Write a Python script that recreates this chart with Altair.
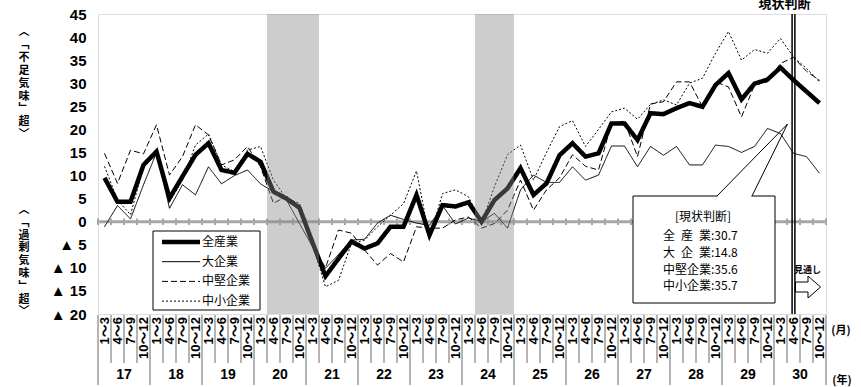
import altair as alt
import pandas as pd

# ---- data -------------------------------------------------------------
years = [str(y) for y in range(17, 31)]
months = ["1～3", "4～6", "7～9", "10～12"]
series_names = ["全産業", "大企業", "中堅企業", "中小企業"]
callout_names = ["全\u2002産\u2002業", "大\u2002企\u2002業", "中堅企業", "中小企業"]
caption_upper = ["︿", "﹁", "不", "足", "気", "味", "﹂", "超", "﹀"]
caption_lower = ["︿", "﹁", "過", "剰", "気", "味", "﹂", "超", "﹀"]

all_industries = [9.5, 4.3, 4.3, 12.3, 15.2, 5.1, 9.8, 14.5, 17.0, 11.2, 10.6, 14.7,
                  13.0, 6.5, 5.0, 3.0, -4.5, -11.8, -8.0, -4.3, -5.8, -4.7, -1.1, -1.1,
                  5.8, -2.9, 3.6, 3.3, 4.2, 0.0, 4.7, 7.2, 11.6, 5.8, 8.3, 14.4,
                  17.0, 14.1, 14.8, 21.3, 21.3, 17.7, 23.5, 23.3, 24.6, 25.7, 24.9, 29.6,
                  32.2, 26.5, 29.9, 30.8, 33.4, 30.7, 28.2, 25.7]
large = [-1.1, 3.5, 0.6, 8.0, 15.0, 2.9, 8.0, 5.8, 11.9, 8.2, 10.0, 11.2,
         8.2, 6.5, 4.7, -0.4, -5.4, -10.1, -7.1, -4.0, -3.8, -0.3, 1.4, 0.5,
         -0.3, -0.8, 3.5, -0.5, 0.8, 0.0, 1.8, -1.4, 6.9, 10.1, 8.5, 8.5,
         11.9, 9.0, 10.1, 16.4, 16.4, 11.9, 16.3, 14.4, 16.3, 12.3, 12.3, 16.6,
         16.3, 15.0, 16.3, 20.2, 19.1, 14.8, 14.1, 10.5]
mid = [14.8, 8.3, 15.5, 14.7, 21.0, 10.1, 14.1, 21.0, 18.8, 12.3, 13.4, 16.3,
       11.9, 4.0, 5.5, 3.5, -5.0, -10.0, -1.8, -2.5, -6.1, -9.4, -6.9, -8.7,
       -1.1, -1.4, -1.4, 0.4, 1.0, -1.4, -0.4, 2.5, 9.0, 2.5, 6.9, 9.5,
       14.5, 12.0, 11.2, 21.3, 21.8, 14.1, 25.5, 26.0, 30.3, 30.3, 24.9, 30.3,
       29.2, 22.7, 29.6, 30.3, 34.3, 35.6, 32.6, 30.6]
small = [12.0, 4.7, 1.5, 11.9, 15.5, 4.3, 9.0, 16.6, 19.0, 12.3, 10.8, 15.5,
         16.3, 9.0, 5.0, 4.0, -5.0, -14.1, -12.7, -4.7, -4.0, -1.1, 1.4, 3.9,
         11.0, -3.5, 6.1, 6.9, 5.4, -0.4, 7.6, 14.5, 16.6, 9.0, 15.0, 20.6,
         21.9, 16.3, 20.0, 23.8, 24.6, 22.2, 25.4, 26.4, 25.3, 30.0, 31.1, 36.5,
         41.2, 35.0, 37.3, 36.5, 39.7, 35.7, 33.2, 30.3]

# shaded periods (quarter index where the band starts / ends)
shade_start = [13, 29]
shade_end = [17, 32]
current_idx = 53  # 30年4～6月 = 現状判断

# ---- frames -----------------------------------------------------------
series_values = [all_industries, large, mid, small]
n_q = len(all_industries)

line_rows = []
for name, vals in zip(series_names, series_values):
    for i, v in enumerate(vals):
        line_rows.append({"series": name, "q": i + 0.5, "value": v})
line_df = pd.DataFrame(line_rows)

quarter_df = pd.DataFrame({
    "q": [i + 0.5 for i in range(n_q)],
    "label": [months[i % 4] for i in range(n_q)],
})
year_df = pd.DataFrame({"q": [4 * k + 2 for k in range(len(years))], "label": years})
bound_df = pd.DataFrame({"k": list(range(n_q + 1))})
shade_df = pd.DataFrame({"start": shade_start, "end": shade_end})
legend_df = pd.DataFrame({"series": series_names, "row": list(range(4))})
callout_df = pd.DataFrame({
    "row": list(range(4)),
    "text": [f"{n}:{vals[current_idx]:.1f}" for n, vals in zip(callout_names, series_values)],
})
caption_df = pd.DataFrame(
    [{"block": 0, "pos": i, "ch": c} for i, c in enumerate(caption_upper)]
    + [{"block": 1, "pos": i, "ch": c} for i, c in enumerate(caption_lower)]
)
one = pd.DataFrame({"a": [0]})

# ---- scales / styles --------------------------------------------------
W, H = 728, 300
LAT = "Liberation Sans, Arial, sans-serif"
JP = "Noto Sans CJK JP, sans-serif"

xs = alt.Scale(domain=[0, n_q], nice=False, zero=False)
ys = alt.Scale(domain=[-20, 45], nice=False, zero=False)
yax = alt.Axis(
    values=list(range(-20, 50, 5)),
    labelExpr="datum.value < 0 ? '▲ ' + abs(datum.value) : datum.label",
    grid=False, ticks=False, domain=False, title=None,
    labelFont=LAT, labelFontSize=15, labelFontWeight="bold", labelColor="black",
    labelPadding=12, labelFlush=False, labelOverlap=False,
)
sw_scale = alt.Scale(type="ordinal", domain=series_names, range=[4.5, 1, 1, 1])
sd_scale = alt.Scale(type="ordinal", domain=series_names,
                     range=[[1, 0], [1, 0], [6, 3], [2, 2]])

# ---- layers -----------------------------------------------------------
zero_line = alt.Chart(one).mark_rule(color="#a6a6a6", strokeWidth=3).encode(
    y=alt.Y(datum=0, scale=ys, axis=yax), x=alt.value(0), x2=alt.value(W)
)
zero_ticks = alt.Chart(bound_df).mark_rule(color="#a6a6a6", strokeWidth=2).encode(
    x=alt.X("k:Q", scale=xs, axis=None),
    y=alt.Y(datum=-0.7, scale=ys, axis=yax), y2=alt.Y2(datum=0.7),
)

# callout box for the current reading
callout_box = alt.Chart(one).mark_rect(fill="white", stroke="black", strokeWidth=1).encode(
    x=alt.value(535), x2=alt.value(677), y=alt.value(182), y2=alt.value(289)
)
callout_gap = alt.Chart(one).mark_rule(color="white", strokeWidth=2).encode(
    x=alt.value(619.5), x2=alt.value(653.5), y=alt.value(182), y2=alt.value(182)
)
callout_ptr1 = alt.Chart(one).mark_rule(color="black", strokeWidth=1).encode(
    x=alt.value(619), y=alt.value(182), x2=alt.value(689.5), y2=alt.value(110)
)
callout_ptr2 = alt.Chart(one).mark_rule(color="black", strokeWidth=1).encode(
    x=alt.value(654), y=alt.value(182), x2=alt.value(689.5), y2=alt.value(110)
)
callout_title = alt.Chart(one).mark_text(
    font=JP, fontSize=12, color="black", align="center", baseline="middle"
).encode(x=alt.value(605), y=alt.value(203), text=alt.value("[現状判断]"))
callout_rows = alt.Chart(callout_df).transform_calculate(
    cy="222 + datum.row * 16.8"
).mark_text(font=JP, fontSize=12, color="black", align="left", baseline="middle").encode(
    x=alt.value(565), y=alt.Y("cy:Q", scale=None), text="text:N"
)

lines = alt.Chart(line_df).mark_line(color="black", strokeJoin="miter").encode(
    x=alt.X("q:Q", scale=xs, axis=None),
    y=alt.Y("value:Q", scale=ys, axis=yax),
    strokeWidth=alt.StrokeWidth("series:N", scale=sw_scale, legend=None),
    strokeDash=alt.StrokeDash("series:N", scale=sd_scale, legend=None),
    detail="series:N",
)

shade = alt.Chart(shade_df).mark_rect(color="#888888", opacity=0.42).encode(
    x=alt.X("start:Q", scale=xs, axis=None), x2="end:Q",
    y=alt.value(0), y2=alt.value(H),
)

vline_a = alt.Chart(one).mark_rule(color="black", strokeWidth=1.5, xOffset=-1.4).encode(
    x=alt.X(datum=current_idx + 0.5, scale=xs, axis=None), y=alt.value(0), y2=alt.value(H)
)
vline_b = alt.Chart(one).mark_rule(color="black", strokeWidth=1.5, xOffset=1.4).encode(
    x=alt.X(datum=current_idx + 0.5, scale=xs, axis=None), y=alt.value(0), y2=alt.value(H)
)
now_label = alt.Chart(one).mark_text(
    font=JP, fontSize=13, fontWeight="bold", color="black", align="center", baseline="middle", dx=-9
).encode(x=alt.X(datum=current_idx + 0.5, scale=xs, axis=None), y=alt.value(-10),
         text=alt.value("現状判断"))
outlook_label = alt.Chart(one).mark_text(
    font=JP, fontSize=9, fontWeight="bold", color="black", align="center", baseline="middle"
).encode(x=alt.value(709.5), y=alt.value(256), text=alt.value("見通し"))
outlook_arrow = alt.Chart(one).mark_point(
    shape="M-1,-0.4L0,-0.4L0,-0.88L1,0L0,0.88L0,0.4L-1,0.4Z",
    size=625, filled=True, fill="white", stroke="black", strokeWidth=1, opacity=1,
).encode(x=alt.value(710), y=alt.value(273))

# legend
legend_box = alt.Chart(one).mark_rect(fill="white", stroke="black", strokeWidth=1).encode(
    x=alt.value(55), x2=alt.value(162), y=alt.value(217), y2=alt.value(296)
)
legend_lines = alt.Chart(legend_df).transform_calculate(
    ly="228 + datum.row * 19.7"
).mark_rule(color="black").encode(
    x=alt.value(64), x2=alt.value(102), y=alt.Y("ly:Q", scale=None),
    strokeWidth=alt.StrokeWidth("series:N", scale=sw_scale, legend=None),
    strokeDash=alt.StrokeDash("series:N", scale=sd_scale, legend=None),
)
legend_text = alt.Chart(legend_df).transform_calculate(
    ly="228 + datum.row * 19.7"
).mark_text(font=JP, fontSize=12, color="black", align="left", baseline="middle").encode(
    x=alt.value(104), y=alt.Y("ly:Q", scale=None), text="series:N"
)

# category axis below the plot
q_sep = alt.Chart(bound_df).transform_filter("datum.k % 4 != 0").mark_rule(
    color="#b4b4b4", strokeWidth=2
).encode(x=alt.X("k:Q", scale=xs, axis=None), y=alt.value(H + 1), y2=alt.value(349))
y_sep = alt.Chart(bound_df).transform_filter("datum.k % 4 == 0").mark_rule(
    color="#b4b4b4", strokeWidth=2
).encode(x=alt.X("k:Q", scale=xs, axis=None), y=alt.value(H + 1), y2=alt.value(371))
q_labels = alt.Chart(quarter_df).mark_text(
    font=LAT + ", " + JP, fontSize=13, fontWeight="bold", color="black",
    angle=270, align="right", baseline="middle",
).encode(x=alt.X("q:Q", scale=xs, axis=None), y=alt.value(H + 3), text="label:N")
y_labels = alt.Chart(year_df).mark_text(
    font=LAT, fontSize=14, fontWeight="bold", color="black", align="center", baseline="middle"
).encode(x=alt.X("q:Q", scale=xs, axis=None), y=alt.value(361), text="label:N")
unit_month = alt.Chart(one).mark_text(
    font=JP, fontSize=11, fontWeight="bold", color="black", align="center", baseline="middle"
).encode(x=alt.value(743), y=alt.value(317), text=alt.value("(月)"))
unit_year = alt.Chart(one).mark_text(
    font=JP, fontSize=11, fontWeight="bold", color="black", align="center", baseline="middle"
).encode(x=alt.value(744), y=alt.value(367), text=alt.value("(年)"))

# vertical captions on the left, one character per line
captions = alt.Chart(caption_df).transform_calculate(
    cy="datum.block == 0 ? 18 + datum.pos * 12.9 : 196 + datum.pos * 12.8"
).mark_text(
    font=JP, fontSize=11, fontWeight="bold", color="black", align="center", baseline="middle",
).encode(x=alt.value(-74), y=alt.Y("cy:Q", scale=None), text="ch:N")

chart = alt.layer(
    zero_line, zero_ticks, callout_box, callout_gap, callout_ptr1, callout_ptr2,
    callout_title, callout_rows, lines, shade, vline_a, vline_b, now_label,
    outlook_label, outlook_arrow, legend_box, legend_lines, legend_text,
    q_sep, y_sep, q_labels, y_labels, unit_month, unit_year, captions,
).properties(
    width=W, height=H,
    autosize=alt.AutoSizeParams(type="none"),
    padding={"left": 98, "top": 14, "right": 35, "bottom": 73},
).configure_view(stroke="black", strokeWidth=2).configure(background="white")

chart.save("out.html", embed_options={"renderer": "svg", "actions": False})
